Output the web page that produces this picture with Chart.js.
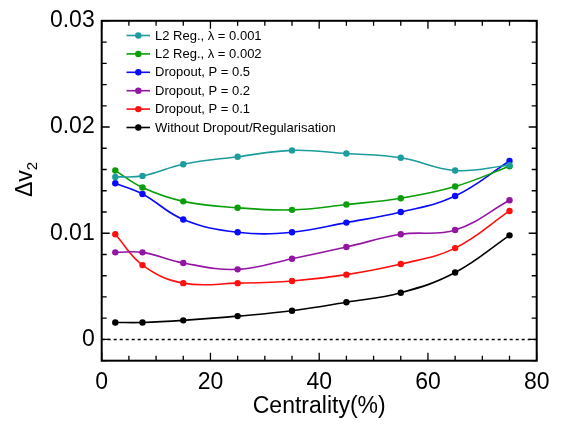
<!DOCTYPE html>
<html lang="en">
<head>
<meta charset="UTF-8" />
<title>dv2 vs centrality</title>
<script src="https://cdn.jsdelivr.net/npm/chart.js@4.4.0/dist/chart.umd.min.js"></script>
<style>
  body { margin: 0; background: #fff; }
</style>
</head>
<body>
<canvas id="myChart" width="566" height="424"></canvas>
<script>
// data
const centrality = [2.5, 7.5, 15, 25, 35, 45, 55, 65, 75];
const l2Reg001  = [0.0153, 0.0154, 0.0165, 0.0172, 0.0178, 0.0175, 0.0171, 0.0159, 0.0164];
const l2Reg002  = [0.0159, 0.0143, 0.0130, 0.0124, 0.0122, 0.0127, 0.0133, 0.0144, 0.0163];
const dropout05 = [0.0147, 0.0137, 0.0113, 0.0101, 0.0101, 0.0110, 0.0120, 0.0135, 0.0168];
const dropout02 = [0.0082, 0.0082, 0.0072, 0.0066, 0.0076, 0.0087, 0.0099, 0.0103, 0.0131];
const dropout01 = [0.0099, 0.0070, 0.0053, 0.0053, 0.0055, 0.0061, 0.0071, 0.0086, 0.0121];
const noReg     = [0.0016, 0.0016, 0.0018, 0.0022, 0.0027, 0.0035, 0.0044, 0.0063, 0.0098];

const seriesLabels = [
  'L2 Reg., \u03bb = 0.001',
  'L2 Reg., \u03bb = 0.002',
  'Dropout, P = 0.5',
  'Dropout, P = 0.2',
  'Dropout, P = 0.1',
  'Without Dropout/Regularisation'
];
const seriesData = [l2Reg001, l2Reg002, dropout05, dropout02, dropout01, noReg];
const colors = ['#1c9c9c', '#0a9e0a', '#0a0aff', '#9414a4', '#ff1010', '#000000'];

const xTicks = [0, 20, 40, 60, 80];
const yTicks = [0, 0.01, 0.02, 0.03];
const zeroLineX = [0, 80];

const FONT = '"Liberation Sans", Arial, Helvetica, sans-serif';
Chart.defaults.font.family = FONT;

const datasets = seriesData.map((vals, i) => ({
  label: seriesLabels[i],
  data: centrality.map((c, j) => ({ x: c, y: vals[j] })),
  borderColor: colors[i],
  backgroundColor: colors[i],
  borderWidth: 1.6,
  pointRadius: 3.2,
  pointBorderWidth: 0,
  tension: 0.4
}));
datasets.unshift({
  label: 'zero',
  data: zeroLineX.map(x => ({ x: x, y: 0 })),
  borderColor: '#000',
  borderWidth: 1.4,
  borderDash: [3, 3],
  pointRadius: 0,
  tension: 0
});

// frame, inward ticks, legend, axis titles
const decor = {
  id: 'decor',
  afterDraw(chart) {
    const c = chart.ctx;
    const a = chart.chartArea;
    const xs = chart.scales.x, ys = chart.scales.y;
    c.save();
    c.strokeStyle = '#000';
    c.lineWidth = 2;
    c.strokeRect(a.left, a.top, a.right - a.left, a.bottom - a.top);
    c.lineWidth = 1.3;
    c.beginPath();
    for (let v = 0; v <= 80; v += 5) {
      const px = xs.getPixelForValue(v);
      const len = v % 20 === 0 ? 8 : 5;
      c.moveTo(px, a.bottom); c.lineTo(px, a.bottom - len);
      c.moveTo(px, a.top); c.lineTo(px, a.top + len);
    }
    for (let k = -1; k <= 15; k++) {
      const v = k * 0.002;
      const py = ys.getPixelForValue(v);
      const len = k % 5 === 0 ? 8 : 5;
      c.moveTo(a.left, py); c.lineTo(a.left + len, py);
      c.moveTo(a.right, py); c.lineTo(a.right - len, py);
    }
    c.stroke();

    // legend
    const sets = chart.data.datasets.filter(d => d.label !== 'zero');
    c.font = '13px ' + FONT;
    c.textBaseline = 'middle';
    c.textAlign = 'left';
    sets.forEach((d, i) => {
      const y = 35.5 + i * 18.4;
      c.strokeStyle = d.borderColor;
      c.lineWidth = 1.6;
      c.beginPath();
      c.moveTo(126.5, y); c.lineTo(150, y);
      c.stroke();
      c.fillStyle = d.borderColor;
      c.beginPath();
      c.arc(138.3, y, 3.2, 0, Math.PI * 2);
      c.fill();
      c.fillStyle = '#000';
      c.fillText(d.label, 155, y + 0.5);
    });

    // x title
    c.fillStyle = '#000';
    c.font = '23px ' + FONT;
    c.textAlign = 'center';
    c.textBaseline = 'middle';
    c.fillText('Centrality(%)', (a.left + a.right) / 2, 407);

    // y title with subscript
    c.translate(32, 197);
    c.rotate(-Math.PI / 2);
    c.textAlign = 'left';
    c.textBaseline = 'alphabetic';
    c.font = '23px ' + FONT;
    c.fillText('\u0394v', 0, 0);
    const w = c.measureText('\u0394v').width;
    c.font = '15px ' + FONT;
    c.fillText('2', w, 5);
    c.restore();
  }
};

new Chart(document.getElementById('myChart'), {
  type: 'line',
  data: { datasets: datasets },
  plugins: [decor],
  options: {
    responsive: false,
    animation: false,
    layout: { padding: { left: 0, top: 16.5, right: 29.3, bottom: 0 } },
    plugins: { legend: { display: false }, tooltip: { enabled: false } },
    scales: {
      x: {
        type: 'linear',
        min: 0, max: 80,
        grid: { display: false, drawTicks: false },
        border: { display: false },
        afterBuildTicks: s => { s.ticks = xTicks.map(v => ({ value: v })); },
        afterFit: s => { s.height = 424 - 360.7; },
        ticks: { color: '#000', font: { size: 23 }, padding: 8, maxRotation: 0 }
      },
      y: {
        min: -0.002, max: 0.03,
        grid: { display: false, drawTicks: false },
        border: { display: false },
        afterBuildTicks: s => { s.ticks = yTicks.map(v => ({ value: v })); },
        afterFit: s => { s.width = 101.7; },
        ticks: {
          color: '#000', font: { size: 23 }, padding: 7,
          callback: v => v === 0 ? '0' : v.toFixed(2)
        }
      }
    }
  }
});
</script>
</body>
</html>
